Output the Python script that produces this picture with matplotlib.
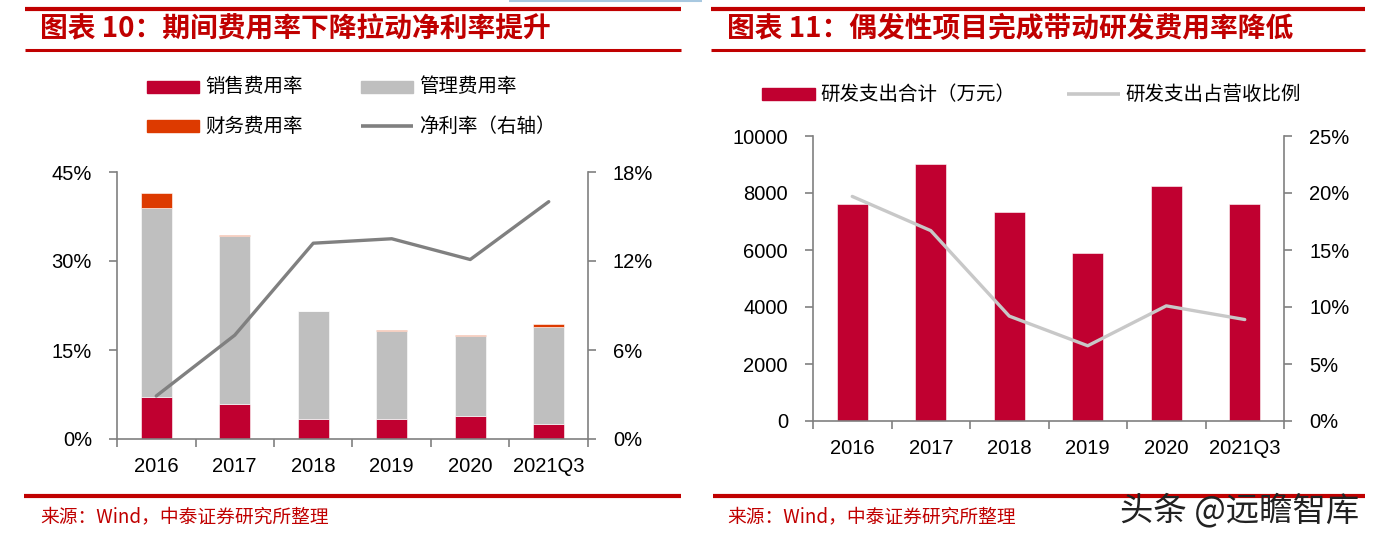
import matplotlib
matplotlib.use("Agg")
import matplotlib.pyplot as plt
import numpy as np
from matplotlib.lines import Line2D
from matplotlib.patches import Rectangle

plt.rcParams['font.family'] = ['Noto Sans CJK SC', 'DejaVu Sans']

# ---- data ----
years = ["2016", "2017", "2018", "2019", "2020", "2021Q3"]
sales_rate = [7.0, 5.9, 3.4, 3.4, 3.9, 2.5]
admin_rate = [32.0, 28.3, 18.1, 14.8, 13.4, 16.4]
fin_rate = [2.4, 0.1, 0.1, 0.2, 0.15, 0.4]
net_margin = [2.9, 7.0, 13.2, 13.5, 12.1, 16.0]

rd_spend = [7600, 9030, 7330, 5890, 8260, 7600]
rd_ratio = [19.7, 16.7, 9.2, 6.6, 10.1, 8.9]

RED = "#C00030"
GREY = "#BFBFBF"
ORANGE = "#DD3A00"
LINE = "#808080"
LIGHT = "#C8C8C8"
TITLE = "#C00000"
AXC = "#808080"

W, H = 1393, 543
fig = plt.figure(figsize=(W / 100, H / 100), dpi=100)


def fx(x):
    return x / W


def fy(y):
    return 1 - y / H


def hline(x0, x1, y, lw, color):
    fig.add_artist(Line2D([fx(x0), fx(x1)], [fy(y), fy(y)], color=color, lw=lw,
                          solid_capstyle="butt"))


def style_axes(ax, ax2):
    for a in (ax, ax2):
        a.spines["top"].set_visible(False)
        for s in ("left", "right", "bottom"):
            a.spines[s].set_color(AXC)
            a.spines[s].set_linewidth(1.2)
    ax.spines["right"].set_visible(False)
    ax2.spines["left"].set_visible(False)
    ax2.spines["bottom"].set_visible(False)
    n = len(years)
    ax.set_xlim(-0.5, n - 0.5)
    ax.set_xticks(np.arange(-0.5, n, 1.0))
    ax.set_xticklabels([])
    ax.set_xticks(np.arange(n), minor=True)
    ax.set_xticklabels(years, minor=True, family="Liberation Sans", fontsize=14.5)
    ax.tick_params(axis="x", which="major", length=6, color=AXC, width=1.2, direction="out")
    ax.tick_params(axis="x", which="minor", length=0, pad=13)
    ax.tick_params(axis="y", length=6, color=AXC, width=1.2, direction="out", pad=12)
    ax2.tick_params(axis="y", length=6, color=AXC, width=1.2, direction="out", pad=12)
    for lab in ax.get_yticklabels() + ax2.get_yticklabels():
        lab.set_family("Liberation Sans")
        lab.set_fontsize(14.5)


x = np.arange(len(years))
bw = 0.4

# ---- left chart ----
ax = fig.add_axes([fx(117), fy(439), fx(588) - fx(117), fy(172) - fy(439)])
ax.bar(x, sales_rate, bw, color=RED, edgecolor="white", linewidth=0.4)
ax.bar(x, admin_rate, bw, bottom=sales_rate, color=GREY, edgecolor="white", linewidth=0.4)
ax.bar(x, fin_rate, bw, bottom=np.array(sales_rate) + np.array(admin_rate),
       color=ORANGE, edgecolor="white", linewidth=0.4)
ax.set_ylim(0, 45)
ax.set_yticks([0, 15, 30, 45])
ax.set_yticklabels(["0%", "15%", "30%", "45%"])
ax2 = ax.twinx()
ax2.plot(x, net_margin, color=LINE, lw=2.4, solid_capstyle="round")
ax2.set_ylim(0, 18)
ax2.set_yticks([0, 6, 12, 18])
ax2.set_yticklabels(["0%", "6%", "12%", "18%"])
style_axes(ax, ax2)

# ---- right chart ----
bx = fig.add_axes([fx(813), fy(421), fx(1284) - fx(813), fy(136) - fy(421)])
bx.bar(x, rd_spend, bw, color=RED, edgecolor="white", linewidth=0.4)
bx.set_ylim(0, 10000)
bx.set_yticks(range(0, 10001, 2000))
bx.set_yticklabels([str(v) for v in range(0, 10001, 2000)])
bx2 = bx.twinx()
bx2.plot(x, rd_ratio, color=LIGHT, lw=2.4, solid_capstyle="round")
bx2.set_ylim(0, 25)
bx2.set_yticks(range(0, 26, 5))
bx2.set_yticklabels([f"{v}%" for v in range(0, 26, 5)])
style_axes(bx, bx2)

# ---- titles & rules ----
hline(509, 702, 1, 1.5, "#A8C8E0")
hline(25, 681, 9, 3.0, TITLE)
hline(25, 681, 50, 2.2, TITLE)
hline(711, 1365, 9, 3.0, TITLE)
hline(711, 1365, 50, 2.2, TITLE)
fig.text(fx(40), fy(29), "图表 10：期间费用率下降拉动净利率提升", color=TITLE,
         fontsize=20, fontweight="bold", va="center", ha="left")
fig.text(fx(727), fy(29), "图表 11：偶发性项目完成带动研发费用率降低", color=TITLE,
         fontsize=20, fontweight="bold", va="center", ha="left")

# ---- legends (manual, matching layout) ----
leg_fs = 14


def patch(x0, x1, y, color, h=12):
    fig.add_artist(Rectangle((fx(x0), fy(y + h / 2)), fx(x1) - fx(x0), (h / H),
                             color=color, transform=fig.transFigure))


patch(147, 199, 87, RED)
fig.text(fx(205), fy(87), "销售费用率", fontsize=leg_fs, va="center")
patch(361, 413, 87, GREY)
fig.text(fx(419), fy(87), "管理费用率", fontsize=leg_fs, va="center")
patch(147, 199, 126, ORANGE)
fig.text(fx(205), fy(126), "财务费用率", fontsize=leg_fs, va="center")
hline(361, 413, 126, 2.6, LINE)
fig.text(fx(419), fy(126), "净利率（右轴）", fontsize=leg_fs, va="center")

patch(762, 815, 94, RED)
fig.text(fx(820), fy(94), "研发支出合计（万元）", fontsize=leg_fs, va="center")
hline(1067, 1120, 94, 2.6, LIGHT)
fig.text(fx(1125), fy(94), "研发支出占营收比例", fontsize=leg_fs, va="center")

# ---- footers ----
hline(24, 681, 496, 3.0, TITLE)
hline(713, 1365, 496, 3.0, TITLE)
fig.text(fx(40), fy(517), "来源：Wind，中泰证券研究所整理", color=TITLE, fontsize=13.5, va="center")
fig.text(fx(727), fy(517), "来源：Wind，中泰证券研究所整理", color=TITLE, fontsize=13.5, va="center")
fig.text(fx(1120), fy(511), "头条 @远瞻智库", color="#222222", fontsize=24, va="center")

fig.savefig("out.png", dpi=100)
